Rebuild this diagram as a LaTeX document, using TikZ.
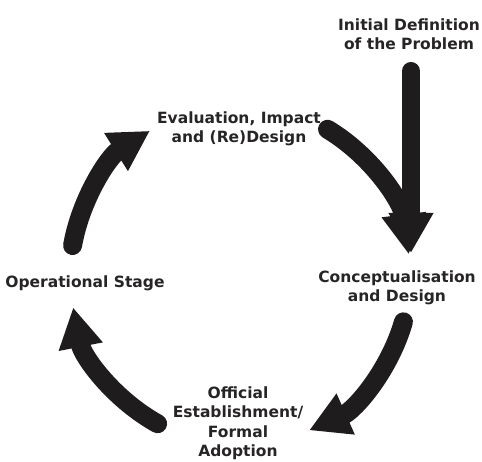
\documentclass[tikz,border=0pt]{standalone}
\usepackage{fontspec}
\setmainfont{DejaVu Sans}
\usetikzlibrary{arrows.meta}
\definecolor{cycleblack}{HTML}{1E1C1C}
\definecolor{cycletext}{HTML}{262424}

\begin{document}
\begin{tikzpicture}[
      x=1pt,
      y=1pt,
      font=\fontsize{15.5}{19.5}\selectfont\bfseries,
      stage/.style={align=center, text=cycletext, inner sep=0pt},
      cyclearrow/.style={-{Triangle[width=42pt, length=40pt]}, line width=19pt,
                         line cap=round, draw=cycleblack}
  ]
    \useasboundingbox (0,0) rectangle (482,462);
    % stage labels round the cycle
    \node[stage] (init) at (409,428) {Initial Definition\\of the Problem};
    \node[stage] (eval) at (239,333) {Evaluation, Impact\\and (Re)Design};
    \node[stage] (conc) at (397,174) {Conceptualisation\\and Design};
    \node[stage] (offi) at (238,39)  {Official\\Establishment/\\Formal\\Adoption};
    \node[stage] (oper) at (85,179)  {Operational Stage};
    % entry arrow
    \coordinate (entry) at (411,391);
    \coordinate (head)  at (411,209);
    \draw[cyclearrow, line width=18pt] (entry) -- (head);
    % the four arcs of the cycle
    \coordinate (hub) at (240,187);
    \foreach \from/\to in {170/122, 59/7, -16/-66, -119/-169} {
      \draw[cyclearrow] ([shift={(\from:170)}]hub)
        arc[start angle=\from, end angle=\to, radius=170];
    }
  \end{tikzpicture}
\end{document}
